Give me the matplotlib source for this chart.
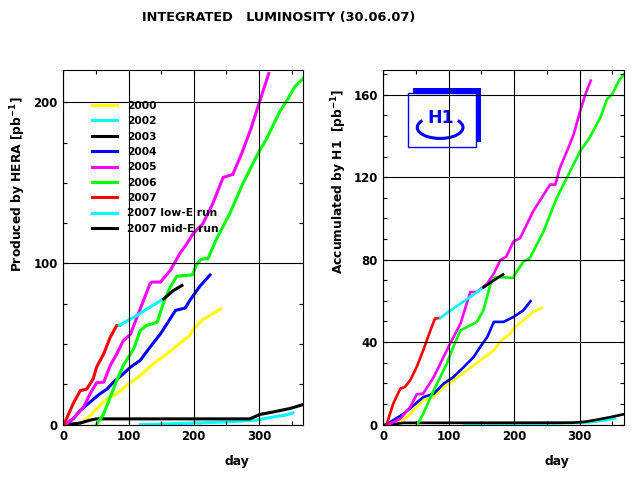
import matplotlib
matplotlib.use('Agg')
import matplotlib.pyplot as plt
from matplotlib.ticker import MultipleLocator
from matplotlib.patches import Rectangle, Arc

plt.rcParams['font.family'] = ['DejaVu Sans']
plt.rcParams['font.weight'] = 'bold'
plt.rcParams['mathtext.default'] = 'regular'

labels = ['2000', '2002', '2003', '2004', '2005', '2006', '2007',
          '2007 low-E run', '2007 mid-E run']
colors = ['#ffff00', '#00ffff', '#000000', '#0000ff', '#ff00ff', '#00ff00',
          '#ff0000', '#00ffff', '#000000']

# ---- produced by HERA (left) ----
hera_days = [
    [23, 36, 51, 67, 82, 97, 118, 138, 159, 179, 194, 199, 214, 230, 241],
    [118, 150, 200, 250, 296, 322, 340, 352],
    [5, 26, 41, 51, 286, 301, 322, 347, 368],
    [3, 15, 26, 41, 56, 67, 77, 92, 103, 118, 133, 149, 159, 172, 187, 194, 209, 225],
    [3, 15, 31, 41, 51, 62, 72, 82, 92, 103, 113, 123, 133, 136, 149, 164, 180,
     188, 199, 214, 229, 245, 260, 275, 288, 301, 315],
    [51, 62, 72, 82, 92, 108, 118, 128, 144, 154, 164, 174, 198, 204, 211, 222,
     234, 255, 275, 299, 311, 332, 342, 355, 368],
    [1, 15, 26, 36, 46, 51, 62, 72, 82, 86],
    [86, 113, 133, 154],
    [154, 169, 182],
]
hera_lumi = [
    [0, 3.5, 9.7, 16, 19, 24.2, 30.4, 37.7, 43.9, 50.5, 55.3, 59, 65.2, 69, 71.7],
    [0, 0.3, 0.9, 1.6, 2.7, 4.7, 5.8, 7.2],
    [0, 0.9, 2.7, 3.5, 3.5, 6.2, 7.8, 9.9, 12.4],
    [0, 3.5, 8.7, 13.9, 19, 22, 26.3, 31.5, 35.6, 39.8, 48, 56.3, 62.5, 70.8, 72.3,
     77, 85.6, 92.8],
    [0, 3.5, 10.8, 19, 25.9, 26.3, 36.6, 43.9, 52, 56, 66.6, 77, 87.4, 88.4, 88.4,
     95.6, 107, 111.3, 118.4, 124.6, 136.9, 153.3, 155.3, 169.7, 184, 200.4, 217.8],
    [0, 6.6, 17, 27.3, 36.6, 47, 58.4, 61.5, 63.5, 76, 85.3, 92, 92.9, 99, 102.5,
     103.1, 114.4, 130.7, 149.2, 168.6, 176.8, 194.3, 200.4, 209.6, 214.8],
    [0, 12.8, 21, 22, 28.4, 35.6, 43.9, 54.2, 61.5, 61.5],
    [61.5, 67.7, 72.9, 78],
    [78, 83.2, 86.3],
]

# ---- accumulated by H1 (right) ----
h1_days = [
    [21, 36, 51, 61, 77, 92, 107, 128, 148, 169, 178, 194, 199, 214, 229, 242],
    [123, 200, 262, 313, 338, 354],
    [13, 30, 290, 308, 328, 349, 368],
    [3, 15, 31, 46, 61, 77, 92, 107, 123, 138, 148, 159, 169, 184, 194, 199, 214, 225],
    [8, 26, 41, 51, 61, 77, 92, 102, 118, 133, 143, 159, 169, 179, 188, 199, 209,
     219, 229, 245, 255, 263, 270, 283, 291, 301, 309, 317],
    [52, 61, 77, 87, 97, 107, 118, 128, 143, 153, 164, 171, 198, 214, 224, 245,
     265, 283, 301, 314, 332, 342, 350, 360, 368],
    [5, 15, 26, 33, 41, 51, 61, 72, 79, 86],
    [87, 107, 133, 153],
    [153, 169, 183],
]
h1_lumi = [
    [0, 3.6, 8.4, 11.7, 13.3, 18.2, 21.4, 26.3, 31.1, 36, 40, 44.1, 46.5, 50.6,
     54.6, 56.6],
    [0, 0.3, 0.5, 1, 2, 3],
    [0, 0.8, 0.9, 1.3, 2.4, 3.7, 5],
    [0, 2, 5.2, 9.2, 13.3, 14.9, 19.8, 23, 27.9, 32.7, 37.6, 42.5, 49.8, 49.8,
     51.4, 52.2, 55.4, 59.8],
    [0, 2.8, 8.4, 14.6, 15, 23, 32.7, 39.2, 49, 64.3, 64.3, 68.4, 73.3, 79.8, 81.5,
     88.8, 90.4, 96.9, 103.4, 111.5, 116.4, 116.4, 124.6, 134.3, 140.8, 152.2,
     160.3, 166.8],
    [0, 5.2, 16.5, 23, 29.5, 37.6, 45.7, 47.3, 49.8, 55.4, 68.4, 71.6, 71.2, 79,
     80.7, 93.7, 109.9, 121.3, 132.7, 138.4, 149, 157.9, 160.3, 166.8, 170],
    [0, 10, 17.4, 18.2, 21.4, 27.9, 36, 45.7, 51.4, 51.7],
    [51.7, 56.3, 61.9, 66.5],
    [66.5, 70, 72.8],
]


def style_axes(ax, ymax, ymajor, yminor):
    ax.set_xlim(0, 368)
    ax.set_ylim(0, ymax)
    ax.xaxis.set_major_locator(MultipleLocator(100))
    ax.xaxis.set_minor_locator(MultipleLocator(50))
    ax.yaxis.set_major_locator(MultipleLocator(ymajor))
    ax.yaxis.set_minor_locator(MultipleLocator(yminor))
    ax.tick_params(which='both', direction='in', top=True, right=True,
                   length=3, width=0.8, labelsize=8.5)
    ax.tick_params(axis='x', pad=4)
    ax.tick_params(axis='y', pad=4)
    ax.grid(which='major', color='black', lw=0.8)
    ax.set_axisbelow(False)
    for s in ax.spines.values():
        s.set_linewidth(0.8)


fig = plt.figure(figsize=(6.36, 4.8), dpi=100)

ax1 = fig.add_axes([0.0995, 0.1156, 0.3774, 0.7385])
for d, v, c, l in zip(hera_days, hera_lumi, colors, labels):
    ax1.plot(d, v, color=c, lw=2.2, label=l)
style_axes(ax1, 220, 100, 25)
ax1.legend(loc='upper left', bbox_to_anchor=(0.118, 0.913), frameon=False,
           fontsize=7.7, handlelength=2.35, handletextpad=0.95,
           labelspacing=0.5, borderpad=0, borderaxespad=0)

ax2 = fig.add_axes([0.6027, 0.1156, 0.3785, 0.7385])
for d, v, c in zip(h1_days, h1_lumi, colors):
    ax2.plot(d, v, color=c, lw=1.9)
style_axes(ax2, 172, 40, 10)

# H1 logo (drawn under the grid)
ax2.add_patch(Rectangle((0.122, 0.798), 0.283, 0.152, transform=ax2.transAxes,
                        facecolor='#0000ff', edgecolor='none', zorder=0.5))
ax2.add_patch(Rectangle((0.104, 0.782), 0.280, 0.152, transform=ax2.transAxes,
                        facecolor='white', edgecolor='#0000ff', lw=1, zorder=0.6))
ax2.add_patch(Arc((0.236, 0.838), 0.19, 0.062, theta1=165, theta2=375,
                  transform=ax2.transAxes, color='#0000ff', lw=2.2, zorder=0.7))
ax2.text(0.238, 0.866, 'H1', transform=ax2.transAxes, ha='center', va='center',
         color='#0000ff', fontsize=12.5, fontweight='heavy', zorder=0.8)

fig.text(0.4387, 0.9625, 'INTEGRATED   LUMINOSITY (30.06.07)',
         ha='center', va='center', fontsize=9.3)
fig.text(0.0288, 0.6167, 'Produced by HERA [pb$^{-1}$]', rotation=90,
         ha='center', va='center', fontsize=8.8)
fig.text(0.533, 0.622, 'Accumulated by H1  [pb$^{-1}$]', rotation=90,
         ha='center', va='center', fontsize=8.8)
fig.text(236.7 / 636, 1 - 461.7 / 480, 'day', ha='center', va='center', fontsize=8.8)
fig.text(557 / 636, 1 - 462 / 480, 'day', ha='center', va='center', fontsize=8.8)

fig.savefig('out.png', dpi=100)
